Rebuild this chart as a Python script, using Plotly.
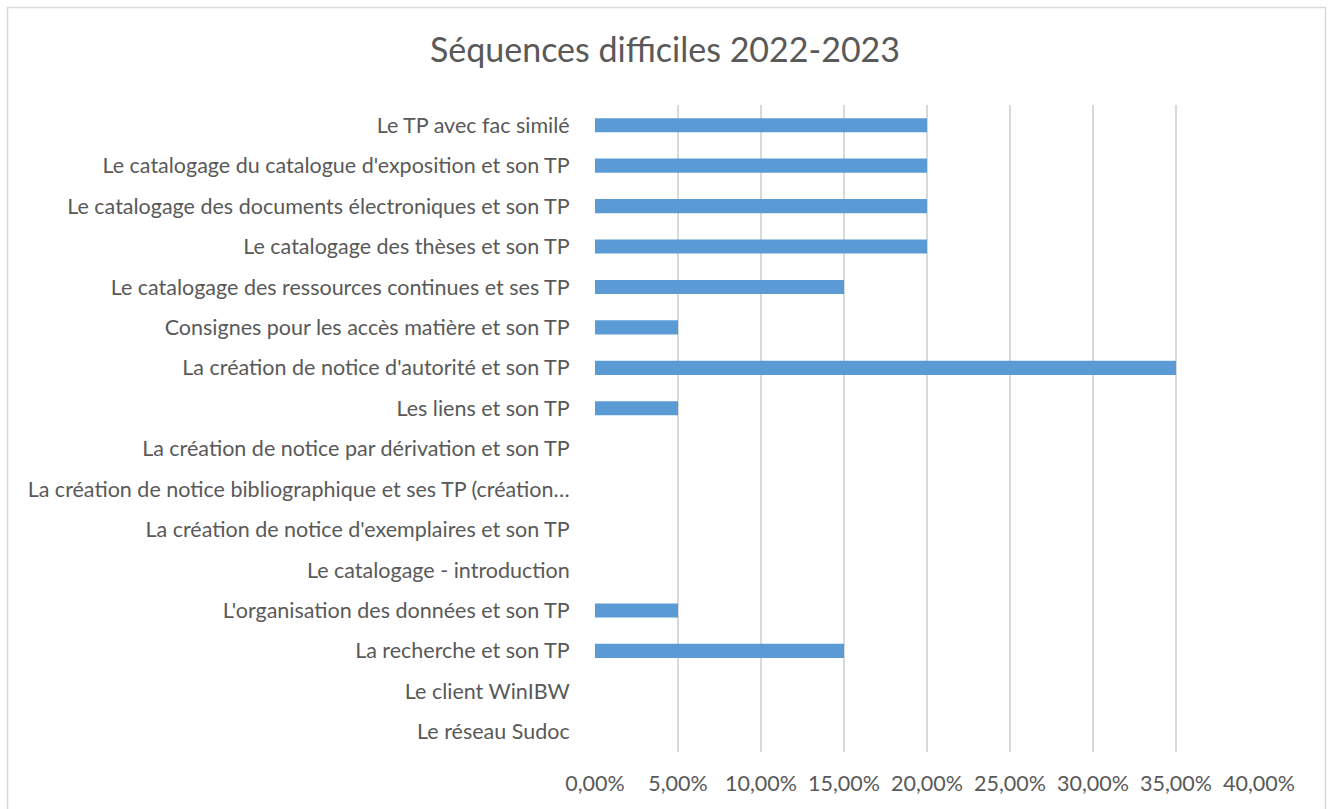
import plotly.graph_objects as go

categories = [
    "Le TP avec fac similé",
    "Le catalogage du catalogue d'exposition et son TP",
    "Le catalogage des documents électroniques et son TP",
    "Le catalogage des thèses et son TP",
    "Le catalogage des ressources continues et ses TP",
    "Consignes pour les accès matière et son TP",
    "La création de notice d'autorité et son TP",
    "Les liens et son TP",
    "La création de notice par dérivation et son TP",
    "La création de notice bibliographique et ses TP (création…",
    "La création de notice d'exemplaires et son TP",
    "Le catalogage - introduction",
    "L'organisation des données et son TP",
    "La recherche et son TP",
    "Le client WinIBW",
    "Le réseau Sudoc",
]
values = [0.20, 0.20, 0.20, 0.20, 0.15, 0.05, 0.35, 0.05, 0.0, 0.0, 0.0, 0.0, 0.05, 0.15, 0.0, 0.0]
x_ticks = [0, 0.05, 0.10, 0.15, 0.20, 0.25, 0.30, 0.35, 0.40]

FONT = "Lato"
GREY = "#595959"

fig = go.Figure(go.Bar(
    x=values, y=categories, orientation="h",
    marker=dict(color="#5B9BD5", line=dict(width=0)),
    hoverinfo="skip",
))

W, H = 1330, 809
L, R, T, B = 595, 1259, 105, 752
pw, ph = R - L, B - T

def px_x(p):
    return (p - L) / pw

def px_y(p):
    return (B - p) / ph

fig.update_layout(
    width=W, height=H,
    margin=dict(l=L, r=W - R, t=T, b=H - B, autoexpand=False),
    paper_bgcolor="white", plot_bgcolor="white",
    separators=", ",
    bargap=0.65,
    showlegend=False,
    font=dict(family=FONT, color=GREY, size=21.5),
    title=dict(text="Séquences difficiles 2022-2023", x=0.5, xref="container",
               xanchor="center", y=1 - 50 / H, yref="container", yanchor="middle",
               font=dict(family=FONT, size=34, color=GREY)),
    xaxis=dict(range=[0, 0.40], tickvals=x_ticks, tickformat=".2%",
               showgrid=True, gridcolor="#D9D9D9", gridwidth=1.5,
               zeroline=False, showline=False,
               ticks="outside", ticklen=12, tickcolor="rgba(0,0,0,0)",
               tickfont=dict(family=FONT, size=21.5, color=GREY), fixedrange=True),
    yaxis=dict(autorange="reversed", showgrid=False, zeroline=False, showline=False,
               ticks="outside", ticklen=20, tickcolor="rgba(0,0,0,0)",
               tickfont=dict(family=FONT, size=21.5, color=GREY), fixedrange=True),
    shapes=[dict(type="rect", xref="paper", yref="paper",
                 x0=px_x(7.5), x1=px_x(1325.5), y0=px_y(815), y1=px_y(7.5),
                 line=dict(color="#D9D9D9", width=1.5), layer="below")],
)

fig.write_html("out.html", config={"displayModeBar": False, "staticPlot": True},
               post_script="document.body.style.margin='0';")
